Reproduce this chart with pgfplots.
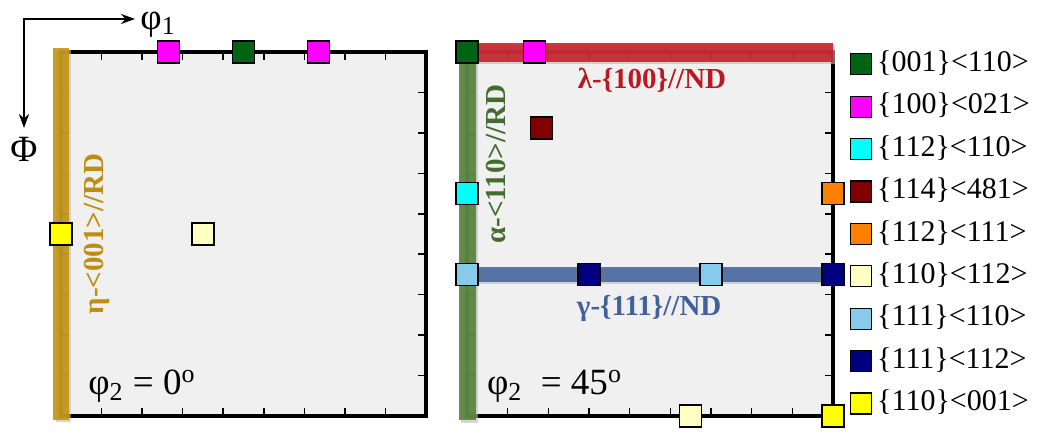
\documentclass[border=0pt]{standalone}
\usepackage{pgfplots}
\pgfplotsset{compat=1.18}
\usepackage{fontspec}
\setmainfont{Liberation Serif}
\usetikzlibrary{arrows.meta}
\definecolor{cgold}{RGB}{196,148,20}
\definecolor{tgold}{RGB}{190,142,20}
\definecolor{cred}{RGB}{200,34,44}
\definecolor{tred}{RGB}{185,25,35}
\definecolor{cgreen}{RGB}{86,130,60}
\definecolor{tgreen}{RGB}{68,108,48}
\definecolor{cblue}{RGB}{74,106,162}
\definecolor{tblue}{RGB}{66,96,155}
\definecolor{bggray}{RGB}{240,240,240}
\definecolor{shad}{RGB}{185,185,185}
\definecolor{m001}{RGB}{0,100,20}
\definecolor{m100}{RGB}{255,0,255}
\definecolor{m112a}{RGB}{0,255,255}
\definecolor{m114}{RGB}{128,0,0}
\definecolor{m112b}{RGB}{255,128,0}
\definecolor{m110a}{RGB}{255,255,195}
\definecolor{m111a}{RGB}{135,202,235}
\definecolor{m111b}{RGB}{0,0,128}
\definecolor{m110b}{RGB}{255,255,0}
\pgfplotsset{
  odf/.style={scale only axis, height=182pt, xmin=0, xmax=90, ymin=0, ymax=90,
    y dir=reverse, axis background/.style={fill=bggray},
    xtick={10,20,...,80}, ytick={10,20,...,80}, xticklabels={}, yticklabels={},
    tick pos=both, tick align=inside, major tick length=4pt,
    every tick/.style={black, line width=0.75pt},
    axis line style={line width=1.8pt}, clip=false, anchor=south west},
  sq/.style={only marks, mark=square*, mark size=5.5pt,
    mark options={fill=#1, draw=black, line width=0.6pt},
    legend image code/.code={\draw[mark=square*, mark size=5.25pt,
      mark options={fill=#1, draw=black, line width=0.6pt}] plot coordinates {(0.2cm,0cm)};}},
  fib/.style={forget plot, no marks, line width=#1, line cap=butt, opacity=0.9},
  shd/.style={forget plot, no marks, line width=#1, line cap=butt, shad, opacity=0.6},
}
\newcommand{\lab}{\bfseries\fontsize{14.5}{17}\selectfont}
\newcommand{\bigfont}{\fontsize{18.5}{22}\selectfont}
\begin{document}
\begin{tikzpicture}
\useasboundingbox (0,0) rectangle (521.5pt,221pt);
% left section phi2 = 0
\begin{axis}[odf, at={(30.5pt,13pt)}, width=182.5pt]
\addplot[shd=7.5pt] coordinates {(0.6,-0.4) (0.6,91.6)};
\addplot[fib=7.5pt, cgold] coordinates {(0,-1) (0,91)};
\addplot[sq=m100] coordinates {(26.6,0) (63.4,0)};
\addplot[sq=m001] coordinates {(45,0)};
\addplot[sq=m110b] coordinates {(0,45)};
\addplot[sq=m110a] coordinates {(35,45)};
\node[rotate=90, text=tgold, font=\lab] at (axis cs:8.9,45) {η-<001>//RD};
\node[anchor=base west, font=\bigfont] at (axis cs:5.0,84.8) {φ\textsubscript{2} = 0\textsuperscript{o}};
\end{axis}
% right section phi2 = 45
\begin{axis}[odf, at={(233.5pt,13pt)}, width=183pt,
  legend style={at={(axis description cs:1.046,1.012)}, anchor=north west,
    draw=none, fill=none, font=\fontsize{15}{17}\selectfont,
    row sep=5pt, inner sep=0pt,
    nodes={inner sep=0.5pt, text depth=4pt, text height=11.2pt},
    /tikz/every odd column/.append style={column sep=2.5pt}},
  legend cell align=left]
\addplot[shd=8.5pt] coordinates {(0.6,-1.6) (0.6,91.8)};
\addplot[fib=8.5pt, cgreen] coordinates {(0,-2.2) (0,91)};
\addplot[shd=9.5pt] coordinates {(-2.1,0.6) (90.4,0.6)};
\addplot[fib=9.5pt, cred] coordinates {(-2.7,0) (90,0)};
\addplot[shd=7.5pt] coordinates {(0.5,55.6) (90.4,55.6)};
\addplot[fib=7.5pt, cblue] coordinates {(0,55) (90,55)};
\addplot[sq=m001] coordinates {(0,0)};
\addlegendentry{\{001\}<110>}
\addplot[sq=m100] coordinates {(16.5,0)};
\addlegendentry{\{100\}<021>}
\addplot[sq=m112a] coordinates {(0,35)};
\addlegendentry{\{112\}<110>}
\addplot[sq=m114] coordinates {(18.4,18.8)};
\addlegendentry{\{114\}<481>}
\addplot[sq=m112b] coordinates {(90,35)};
\addlegendentry{\{112\}<111>}
\addplot[sq=m110a] coordinates {(55,90)};
\addlegendentry{\{110\}<112>}
\addplot[sq=m111a] coordinates {(0,55) (60,55)};
\addlegendentry{\{111\}<110>}
\addplot[sq=m111b] coordinates {(30,55) (90,55)};
\addlegendentry{\{111\}<112>}
\addplot[sq=m110b] coordinates {(90,90)};
\addlegendentry{\{110\}<001>}
\node[text=tred, font=\lab] at (axis cs:45.5,6.9) {λ-\{100\}//ND};
\node[text=tblue, font=\lab] at (axis cs:44.8,63.5) {γ-\{111\}//ND};
\node[rotate=90, text=tgreen, font=\lab] at (axis cs:7.1,27.7) {α-<110>//RD};
\node[anchor=base west, font=\bigfont] at (axis cs:3.2,84.8) {φ\textsubscript{2}\ \ = 45\textsuperscript{o}};
\end{axis}
% Euler angle axes
\draw[line width=1.2pt, {Stealth[length=7pt,width=5pt]}-{Stealth[length=7pt,width=5pt]}] (12pt,157pt) -- (12pt,211.5pt) -- (67.5pt,211.5pt);
\node[anchor=west, inner sep=1pt, font=\bigfont] at (69pt,208.5pt) {φ\textsubscript{1}};
\node[font=\bigfont] at (12pt,146.5pt) {Φ};
\end{tikzpicture}
\end{document}
